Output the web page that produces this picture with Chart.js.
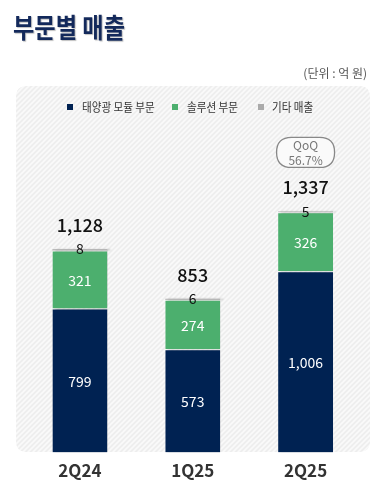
<!DOCTYPE html>
<html><head><meta charset="utf-8">
<script src="https://cdn.jsdelivr.net/npm/chart.js@4/dist/chart.umd.min.js"></script>
<style>html,body{margin:0;padding:0;background:#fff;overflow:hidden}canvas{display:block}</style>
</head><body>
<canvas id="c" width="386" height="495"></canvas>
<script>
// ---- data ----
const categories = ['2Q24', '1Q25', '2Q25'];
const seriesNames = ['태양광 모듈 부문', '솔루션 부문', '기타 매출'];
const moduleSales = [799, 573, 1006];
const solutionSales = [321, 274, 326];
const otherSales = [8, 6, 5];
const totalLabels = ['1,128', '853', '1,337'];
const qoqText = ['QoQ', '56.7%'];
const titleText = '부문별 매출';
const unitText = '(단위 : 억 원)';

const colors = ['#002252', '#4caf6e', '#aaaaaa'];
const FONT = "'Noto Sans CJK KR', 'Noto Sans', sans-serif";

function fmt(v){ return v.toLocaleString('en-US'); }

function makeHatch(){
  const p = document.createElement('canvas');
  p.width = 5; p.height = 5;
  const g = p.getContext('2d');
  g.fillStyle = '#eeeeee'; g.fillRect(0,0,5,5);
  g.strokeStyle = '#fafafa'; g.lineWidth = 1.6;
  g.beginPath();
  g.moveTo(-1,6); g.lineTo(6,-1);
  g.moveTo(-1,1); g.lineTo(1,-1);
  g.moveTo(4,6); g.lineTo(6,4);
  g.stroke();
  return p;
}

function roundRect(ctx,x,y,w,h,r){
  ctx.beginPath();
  ctx.moveTo(x+r,y); ctx.lineTo(x+w-r,y); ctx.quadraticCurveTo(x+w,y,x+w,y+r);
  ctx.lineTo(x+w,y+h-r); ctx.quadraticCurveTo(x+w,y+h,x+w-r,y+h);
  ctx.lineTo(x+r,y+h); ctx.quadraticCurveTo(x,y+h,x,y+h-r);
  ctx.lineTo(x,y+r); ctx.quadraticCurveTo(x,y,x+r,y); ctx.closePath();
}

const decor = {
  id: 'decor',
  beforeDraw(chart){
    const ctx = chart.ctx;
    ctx.save();
    // title
    ctx.save();
    ctx.fillStyle = '#13295b';
    ctx.shadowColor = 'rgba(0,0,0,0.25)'; ctx.shadowOffsetX = 1; ctx.shadowOffsetY = 1; ctx.shadowBlur = 1;
    ctx.font = 'bold 27px ' + FONT;
    ctx.textBaseline = 'middle';
    ctx.translate(13, 28);
    ctx.scale(0.86, 1);
    ctx.fillText(titleText, 0, 0);
    ctx.restore();
    // unit
    ctx.fillStyle = '#555';
    ctx.font = '12px ' + FONT;
    ctx.textAlign = 'right'; ctx.textBaseline = 'middle';
    ctx.fillText(unitText, 367, 73);
    // panel
    ctx.fillStyle = ctx.createPattern(makeHatch(), 'repeat');
    roundRect(ctx, 16, 86, 354, 366, 11);
    ctx.fill();
    // legend
    const sq = [67, 172, 258], tx = [82, 187, 272];
    ctx.textAlign = 'left';
    ctx.font = '12px ' + FONT;
    chart.data.datasets.forEach((ds, i) => {
      ctx.fillStyle = ds.backgroundColor;
      ctx.fillRect(sq[i], 104, 6, 6);
      ctx.fillStyle = '#333';
      ctx.save();
      ctx.translate(tx[i], 107.5);
      ctx.scale(0.88, 1);
      ctx.fillText(ds.label, 0, 0);
      ctx.restore();
    });
    ctx.restore();
  },
  beforeDatasetsDraw(chart){
    const ctx = chart.ctx;
    ctx.save();
    ctx.shadowColor = 'rgba(0,0,0,0.22)';
    ctx.shadowOffsetX = 3; ctx.shadowOffsetY = 0; ctx.shadowBlur = 2;
  },
  afterDatasetsDraw(chart){
    const ctx = chart.ctx;
    ctx.restore();
    ctx.save();
    ctx.textAlign = 'center'; ctx.textBaseline = 'middle';
    // segment values
    [0,1].forEach(di => {
      const meta = chart.getDatasetMeta(di);
      meta.data.forEach((el, i) => {
        ctx.fillStyle = '#fff';
        ctx.font = '14px ' + FONT;
        ctx.fillText(fmt(chart.data.datasets[di].data[i]), el.x, (el.y + el.base) / 2 + 1);
      });
    });
    const metaO = chart.getDatasetMeta(2);
    metaO.data.forEach((el, i) => {
      ctx.fillStyle = '#111';
      ctx.font = '14px ' + FONT;
      ctx.fillText(fmt(chart.data.datasets[2].data[i]), el.x, el.y);
    });
    // totals
    const ys = chart.scales.y;
    categories.forEach((c, i) => {
      const tot = moduleSales[i] + solutionSales[i] + otherSales[i];
      const x = metaO.data[i].x;
      const y = ys.getPixelForValue(tot) - 24;
      ctx.fillStyle = '#111';
      ctx.font = '500 18px ' + FONT;
      ctx.fillText(totalLabels[i], x, y);
      if (i === categories.length - 1) {
        const cy = y - 35;
        ctx.strokeStyle = '#888'; ctx.lineWidth = 1.3;
        roundRect(ctx, x - 29, cy - 15, 58, 30, 15);
        ctx.fillStyle = '#fafafa'; ctx.fill();
        ctx.stroke();
        ctx.fillStyle = '#777';
        ctx.font = '12px ' + FONT;
        ctx.fillText(qoqText[0], x, cy - 7);
        ctx.fillText(qoqText[1], x, cy + 8);
      }
    });
    ctx.restore();
  }
};

new Chart(document.getElementById('c'), {
  type: 'bar',
  data: {
    labels: categories,
    datasets: [
      { label: seriesNames[0], data: moduleSales, backgroundColor: colors[0], borderColor: 'rgba(255,255,255,0.85)', borderWidth: {top:1}, borderSkipped: false },
      { label: seriesNames[1], data: solutionSales, backgroundColor: colors[1], borderColor: 'rgba(255,255,255,0.85)', borderWidth: {top:1}, borderSkipped: false },
      { label: seriesNames[2], data: otherSales, backgroundColor: colors[2], borderWidth: 0 }
    ]
  },
  options: {
    responsive: false,
    animation: false,
    devicePixelRatio: 1,
    categoryPercentage: 1,
    barPercentage: 0.487,
    layout: { padding: { left: 23.5, right: 24, top: 146, bottom: 6 } },
    plugins: { legend: { display: false }, tooltip: { enabled: false }, title: { display: false } },
    scales: {
      x: {
        stacked: true,
        grid: { display: false, drawTicks: false },
        border: { display: false },
        ticks: { color: '#333', padding: 8, font: { family: FONT, size: 17, weight: 'bold' } }
      },
      y: { stacked: true, display: false, min: 0, max: 1700 }
    }
  },
  plugins: [decor]
});
</script>
</body></html>
